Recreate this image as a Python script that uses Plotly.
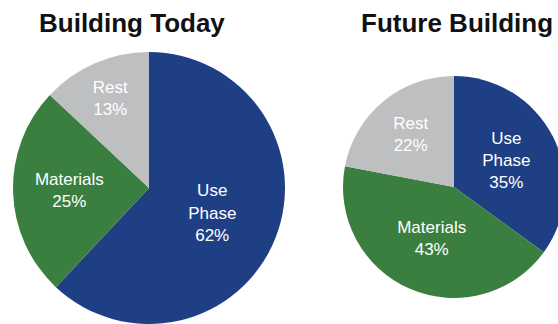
import plotly.graph_objects as go

# Share of life-cycle impact by phase
labels = ["Use<br>Phase", "Materials", "Rest"]
today_values = [62, 25, 13]
future_values = [35, 43, 22]
titles = ["Building Today", "Future Building"]

colors = ["#1F3F85", "#3A7F3F", "#BDBFC1"]

W, H = 580, 324

def px_domain(x0, x1, y0, y1):
    # convert pixel box (top-left origin) to paper domain
    return dict(x=[x0 / W, x1 / W], y=[1 - y1 / H, 1 - y0 / H])

fig = go.Figure()
for vals, dom in [
    (today_values, px_domain(13, 285, 52, 324)),
    (future_values, px_domain(343, 565, 76, 298)),
]:
    fig.add_trace(go.Pie(
        labels=labels,
        values=vals,
        sort=False,
        direction="clockwise",
        rotation=0,
        marker=dict(colors=colors, line=dict(width=0)),
        texttemplate="%{label}<br>%{value}%",
        textposition="inside",
        insidetextorientation="horizontal",
        textfont=dict(family="Liberation Sans, Arial, sans-serif", size=17, color="white"),
        hoverinfo="label+percent",
        showlegend=False,
        domain=dom,
    ))

for title, cx in zip(titles, [132, 457]):
    fig.add_annotation(
        text="<b>%s</b>" % title,
        x=cx / W, y=1 - 23 / H, xref="paper", yref="paper",
        xanchor="center", yanchor="middle", showarrow=False,
        font=dict(family="Liberation Sans, Arial, sans-serif", size=26, color="#111111"),
    )

fig.update_layout(
    width=W, height=H,
    margin=dict(l=0, r=0, t=0, b=0),
    paper_bgcolor="white",
    plot_bgcolor="white",
)

fig.write_html("out.html", post_script="document.body.style.overflow='hidden';")
